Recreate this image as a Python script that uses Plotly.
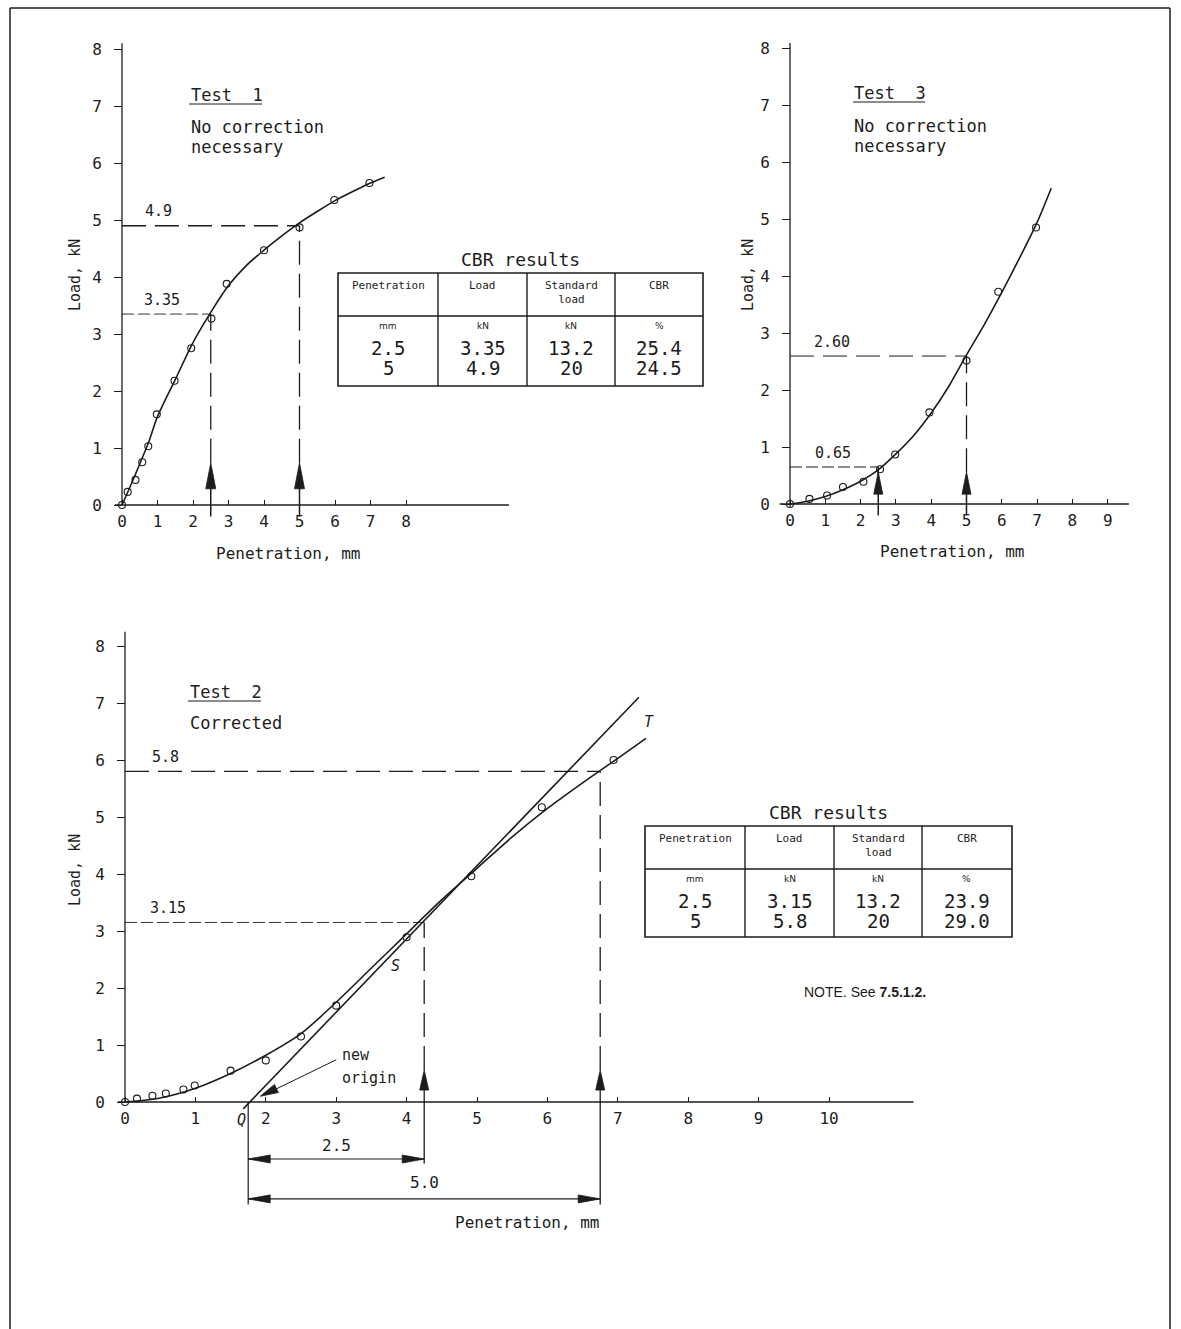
import math
import plotly.graph_objects as go

W, H = 1181, 1329
INK = "#1c1c1c"
FONT = "DejaVu Sans Mono, Liberation Mono, monospace"

# ---------------- data ----------------
tick_vals_8 = [0, 1, 2, 3, 4, 5, 6, 7, 8]
tick_vals_9 = [0, 1, 2, 3, 4, 5, 6, 7, 8, 9]
tick_vals_10 = [0, 1, 2, 3, 4, 5, 6, 7, 8, 9, 10]

# Test 1
t1_pen = [0, 0.16, 0.38, 0.57, 0.74, 0.98, 1.48, 1.95, 2.52, 2.95, 4.0, 5.0, 5.98, 6.97]
t1_load = [0, 0.23, 0.44, 0.75, 1.03, 1.59, 2.18, 2.75, 3.27, 3.88, 4.47, 4.87, 5.35, 5.65]
t1_curve_pen = [0, 0.25, 0.5, 0.75, 1.0, 1.5, 2.0, 2.5, 3.0, 3.5, 4.0, 4.5, 5.0, 5.5, 6.0, 6.5, 7.0, 7.4]
t1_curve_load = [0, 0.35, 0.72, 1.1, 1.55, 2.2, 2.85, 3.38, 3.85, 4.2, 4.47, 4.72, 4.95, 5.15, 5.34, 5.5, 5.65, 5.75]
t1_read_pen = [2.5, 5.0]
t1_read_load = [3.35, 4.9]

# Test 3
t3_pen = [0, 0.55, 1.05, 1.5, 2.08, 2.55, 2.98, 3.95, 5.0, 5.9, 6.97]
t3_load = [0, 0.09, 0.15, 0.30, 0.39, 0.61, 0.87, 1.61, 2.52, 3.73, 4.86]
t3_curve_pen = [0, 0.5, 1.0, 1.5, 2.0, 2.5, 3.0, 3.5, 4.0, 4.5, 5.0, 5.5, 6.0, 6.5, 7.0, 7.4]
t3_curve_load = [0, 0.05, 0.13, 0.25, 0.4, 0.6, 0.88, 1.2, 1.6, 2.07, 2.62, 3.15, 3.72, 4.32, 4.95, 5.55]
t3_read_pen = [2.5, 5.0]
t3_read_load = [0.65, 2.60]

# Test 2
t2_pen = [0, 0.17, 0.39, 0.58, 0.83, 0.99, 1.5, 2.0, 2.5, 3.0, 4.0, 4.92, 5.92, 6.94]
t2_load = [0, 0.06, 0.11, 0.15, 0.22, 0.29, 0.55, 0.73, 1.15, 1.69, 2.89, 3.96, 5.17, 6.0]
t2_curve_pen = [0, 0.5, 1.0, 1.5, 2.0, 2.5, 3.0, 3.5, 4.0, 4.5, 5.0, 5.5, 6.0, 6.5, 7.0, 7.4]
t2_curve_load = [0, 0.07, 0.24, 0.5, 0.82, 1.2, 1.75, 2.35, 2.95, 3.55, 4.1, 4.65, 5.15, 5.6, 6.03, 6.38]
t2_tangent_pen = [1.68, 7.3]
t2_tangent_load = [-0.12, 7.1]
t2_new_origin = 1.75
t2_offsets = [2.5, 5.0]
t2_read_load = [3.15, 5.8]

# CBR result tables
tbl_headers = ["Penetration", "Load", "Standard<br>load", "CBR"]
tbl_units = ["mm", "kN", "kN", "%"]
tbl1_rows = [["2.5", "3.35", "13.2", "25.4"], ["5", "4.9", "20", "24.5"]]
tbl2_rows = [["2.5", "3.15", "13.2", "23.9"], ["5", "5.8", "20", "29.0"]]

# ---------------- geometry (pixels of the drawing) ----------------
panels = {
    "t1": dict(x0=122, sx=35.5, y0=505, sy=57.0, xr=(-0.3, 11.0), yr=(-0.4, 8.3), ax=("x", "y"), ticks=tick_vals_8),
    "t3": dict(x0=790, sx=35.3, y0=504, sy=56.9, xr=(-0.3, 9.9), yr=(-0.4, 8.3), ax=("x2", "y2"), ticks=tick_vals_9),
    "t2": dict(x0=125, sx=70.4, y0=1102, sy=57.0, xr=(-0.3, 11.4), yr=(-2.2, 8.4), ax=("x3", "y3"), ticks=tick_vals_10),
}

LONG_DASH = "24px,9px"
SHORT_DASH = "12px,4px"


def PX(px):
    return px / W


def PY(py):
    return 1 - py / H


fig = go.Figure()


def line(panel, xs, ys, width=1.4, dash="solid", color=INK, shape="linear"):
    xa, ya = panels[panel]["ax"]
    fig.add_trace(go.Scatter(x=xs, y=ys, mode="lines", xaxis=xa, yaxis=ya,
                             line=dict(color=color, width=width, dash=dash, shape=shape, smoothing=0.8),
                             showlegend=False, hoverinfo="skip"))


def points(panel, xs, ys):
    xa, ya = panels[panel]["ax"]
    fig.add_trace(go.Scatter(x=xs, y=ys, mode="markers", xaxis=xa, yaxis=ya,
                             marker=dict(symbol="circle-open", size=7, color=INK, line=dict(width=1.1)),
                             showlegend=False, hoverinfo="skip", cliponaxis=False))


def head(panel, xt, yt, xs, ys, L=24, Wd=9):
    """Filled, slender arrow head with its tip at (xt, yt), pointing away from (xs, ys)."""
    p = panels[panel]
    xa, ya = p["ax"]
    dxp = (xt - xs) * p["sx"]
    dyp = (yt - ys) * p["sy"]
    n = math.hypot(dxp, dyp)
    ux, uy = dxp / n, dyp / n
    bx, by = -ux * L, -uy * L
    qx, qy = -uy * Wd / 2, ux * Wd / 2
    pts = [(0, 0), (bx + qx, by + qy), (bx - qx, by - qy)]
    path = ""
    for k, (ox, oy) in enumerate(pts):
        path += ("M" if k == 0 else "L") + f"{xt + ox / p['sx']:.5f},{yt + oy / p['sy']:.5f} "
    path += "Z"
    fig.add_shape(type="path", xref=xa, yref=ya, path=path, fillcolor=INK,
                  line=dict(color=INK, width=0.8))


def text(panel, x, y, s, size=15, xanchor="left", yanchor="middle", angle=0, family=FONT):
    if panel == "paper":
        xa, ya = "paper", "paper"
    else:
        xa, ya = panels[panel]["ax"]
    fig.add_annotation(x=x, y=y, xref=xa, yref=ya, text=s, showarrow=False,
                       xanchor=xanchor, yanchor=yanchor, textangle=angle,
                       font=dict(family=family, size=size, color=INK))


def pline(x0, y0, x1, y1, width=1.3):
    fig.add_shape(type="line", xref="paper", yref="paper", x0=PX(x0), y0=PY(y0), x1=PX(x1), y1=PY(y1),
                  line=dict(color=INK, width=width))


# ---------------- axes ----------------
layout_axes = {}
for i, (key, p) in enumerate(panels.items()):
    sfx = "" if i == 0 else str(i + 1)
    xd = [PX(p["x0"] + p["xr"][0] * p["sx"]), PX(p["x0"] + p["xr"][1] * p["sx"])]
    yd = [PY(p["y0"] - p["yr"][0] * p["sy"]), PY(p["y0"] - p["yr"][1] * p["sy"])]
    layout_axes["xaxis" + sfx] = dict(domain=xd, range=list(p["xr"]), anchor="free", position=PY(p["y0"]),
                                      showgrid=False, zeroline=False, showline=False,
                                      ticks="inside", ticklen=5, tickwidth=1.2, tickcolor=INK,
                                      ticklabelstandoff=5,
                                      tickvals=p["ticks"], ticktext=[str(v) for v in p["ticks"]],
                                      tickfont=dict(family=FONT, size=16, color=INK))
    layout_axes["yaxis" + sfx] = dict(domain=yd, range=list(p["yr"]), anchor="free", position=PX(p["x0"]),
                                      showgrid=False, zeroline=False, showline=False,
                                      ticks="outside", ticklen=8, tickwidth=1.2, tickcolor=INK,
                                      ticklabelstandoff=9,
                                      tickvals=tick_vals_8, ticktext=[str(v) for v in tick_vals_8],
                                      tickfont=dict(family=FONT, size=16, color=INK))

# axis lines
line("t1", [-0.2, 10.9], [0, 0], width=1.3)
line("t1", [0, 0], [0, 8.1], width=1.3)
line("t3", [-0.3, 9.6], [0, 0], width=1.3)
line("t3", [0, 0], [-0.05, 8.1], width=1.3)
line("t2", [-0.1, 11.2], [0, 0], width=1.3)
line("t2", [0, 0], [0, 8.25], width=1.3)

# ---------------- Test 1 ----------------
line("t1", t1_curve_pen, t1_curve_load, width=1.6, shape="spline")
points("t1", t1_pen, t1_load)
line("t1", [0, t1_read_pen[1]], [t1_read_load[1]] * 2, width=1.4, dash=LONG_DASH)
line("t1", [0, t1_read_pen[0]], [t1_read_load[0]] * 2, width=0.9, dash=SHORT_DASH)
for xv, yv in zip(t1_read_pen, t1_read_load):
    line("t1", [xv] * 2, [0.74, yv], width=1.3, dash=LONG_DASH)
    line("t1", [xv] * 2, [-0.2, 0.6], width=1.5)
    head("t1", xv, 0.74, xv, 0, L=26, Wd=10)
text("t1", 0.6, t1_read_load[1] + 0.06, "4.9", size=15, yanchor="bottom")
text("t1", 0.55, t1_read_load[0] + 0.06, "3.35", size=15, yanchor="bottom")
text("t1", 1.88, 7.19, "Test  1", size=17)
text("t1", 1.88, 6.63, "No correction", size=17)
text("t1", 1.88, 6.28, "necessary", size=17)
pline(189, 104, 262, 104, width=1.2)
text("paper", PX(75), PY(275), "Load, kN", size=15, xanchor="center", angle=-90)
text("paper", PX(288), PY(553), "Penetration, mm", size=16, xanchor="center")

# ---------------- Test 3 ----------------
line("t3", t3_curve_pen, t3_curve_load, width=1.6, shape="spline")
points("t3", t3_pen, t3_load)
line("t3", [0, t3_read_pen[1]], [t3_read_load[1]] * 2, width=1.0, dash=LONG_DASH)
line("t3", [0, t3_read_pen[0]], [t3_read_load[0]] * 2, width=1.0, dash=SHORT_DASH)
line("t3", [t3_read_pen[1]] * 2, [0.56, t3_read_load[1]], width=1.3, dash=LONG_DASH)
line("t3", [t3_read_pen[1]] * 2, [-0.2, 0.5], width=1.5)
line("t3", [t3_read_pen[0]] * 2, [-0.2, t3_read_load[0]], width=1.5)
for xv in t3_read_pen:
    head("t3", xv, 0.56, xv, 0, L=22, Wd=9)
text("t3", 0.62, t3_read_load[1] + 0.06, "2.60", size=15, yanchor="bottom")
text("t3", 0.65, t3_read_load[0] + 0.06, "0.65", size=15, yanchor="bottom")
text("t3", 1.76, 7.23, "Test  3", size=17)
text("t3", 1.76, 6.65, "No correction", size=17)
text("t3", 1.76, 6.3, "necessary", size=17)
pline(853, 102, 925, 102, width=1.2)
text("paper", PX(748), PY(275), "Load, kN", size=15, xanchor="center", angle=-90)
text("paper", PX(952), PY(551), "Penetration, mm", size=16, xanchor="center")

# ---------------- Test 2 ----------------
line("t2", t2_curve_pen, t2_curve_load, width=1.6, shape="spline")
line("t2", t2_tangent_pen, t2_tangent_load, width=1.6)
points("t2", t2_pen, t2_load)
corr = [t2_new_origin + o for o in t2_offsets]
line("t2", [0, corr[1]], [t2_read_load[1]] * 2, width=1.4, dash=LONG_DASH)
line("t2", [0, corr[0]], [t2_read_load[0]] * 2, width=0.9, dash=SHORT_DASH)
for xv, yv in zip(corr, t2_read_load):
    line("t2", [xv] * 2, [0.56, yv], width=1.3, dash=LONG_DASH)
    head("t2", xv, 0.56, xv, 0, L=20, Wd=9)
# dimension lines below axis
dim_y = [-1.0, -1.7]
line("t2", [t2_new_origin] * 2, [0, -1.8], width=1.2)
line("t2", [corr[0]] * 2, [0.45, -1.08], width=1.3)
line("t2", [corr[1]] * 2, [0.45, -1.8], width=1.3)
for xv, yv in zip(corr, dim_y):
    line("t2", [t2_new_origin, xv], [yv, yv], width=1.2)
    head("t2", xv, yv, t2_new_origin, yv, L=22, Wd=8)
    head("t2", t2_new_origin, yv, xv, yv, L=22, Wd=8)
text("t2", (t2_new_origin + corr[0]) / 2, -0.76, "2.5", size=16, xanchor="center")
text("t2", (t2_new_origin + corr[1]) / 2, -1.42, "5.0", size=16, xanchor="center")
# new origin pointer
line("t2", [3.0, 2.05], [0.74, 0.17], width=1.0)
head("t2", 1.92, 0.1, 3.0, 0.74, L=18, Wd=9)
text("t2", 3.06, 0.82, "new", size=15)
text("t2", 3.06, 0.42, "origin", size=15)
text("t2", 1.66, -0.32, "<i>Q</i>", size=15, xanchor="center")
text("t2", 3.84, 2.38, "<i>S</i>", size=15, xanchor="center")
text("t2", 7.45, 6.67, "<i>T</i>", size=15, xanchor="center")
text("t2", 0.35, t2_read_load[1] + 0.06, "5.8", size=15, yanchor="bottom")
text("t2", 0.33, t2_read_load[0] + 0.06, "3.15", size=15, yanchor="bottom")
text("t2", 0.89, 7.19, "Test  2", size=17)
text("t2", 0.89, 6.65, "Corrected", size=17)
pline(188, 701, 261, 701, width=1.2)
text("paper", PX(75), PY(870), "Load, kN", size=15, xanchor="center", angle=-90)
text("paper", PX(527), PY(1222), "Penetration, mm", size=16, xanchor="center")


# ---------------- tables ----------------
def table(cols, top, mid, bottom, rows, title_y):
    left, right = cols[0], cols[-1]
    fig.add_shape(type="rect", xref="paper", yref="paper", x0=PX(left), x1=PX(right), y0=PY(bottom), y1=PY(top),
                  line=dict(color=INK, width=1.6))
    pline(left, mid, right, mid, width=1.4)
    for c in cols[1:-1]:
        pline(c, top, c, bottom, width=1.4)
    text("paper", PX((left + right) / 2), PY(title_y), "CBR results", size=18, xanchor="center")
    for j in range(4):
        cx = PX((cols[j] + cols[j + 1]) / 2)
        text("paper", cx, PY(top + 4), tbl_headers[j], size=11, xanchor="center", yanchor="top")
        text("paper", cx, PY(mid + 10), tbl_units[j], size=9, xanchor="center",
             family="DejaVu Sans, sans-serif")
        text("paper", cx, PY(mid + 32), rows[0][j], size=19, xanchor="center")
        text("paper", cx, PY(mid + 52), rows[1][j], size=19, xanchor="center")


table([338, 438, 527, 615, 703], 273, 316, 386, tbl1_rows, 259)
table([645, 745, 834, 922, 1012], 826, 869, 937, tbl2_rows, 812)

text("paper", PX(865), PY(992), "NOTE. See <b>7.5.1.2.</b>", size=14, xanchor="center",
     family="Liberation Sans, Arial, sans-serif")

# outer frame
pline(10, 8, 1170, 8, width=1.5)
pline(10, 8, 10, 1329, width=1.5)
pline(1170, 8, 1170, 1329, width=1.5)

fig.update_layout(width=W, height=H, margin=dict(l=0, r=0, t=0, b=0),
                  paper_bgcolor="white", plot_bgcolor="rgba(0,0,0,0)",
                  showlegend=False, hovermode=False, **layout_axes)

fig.write_html("out.html")
